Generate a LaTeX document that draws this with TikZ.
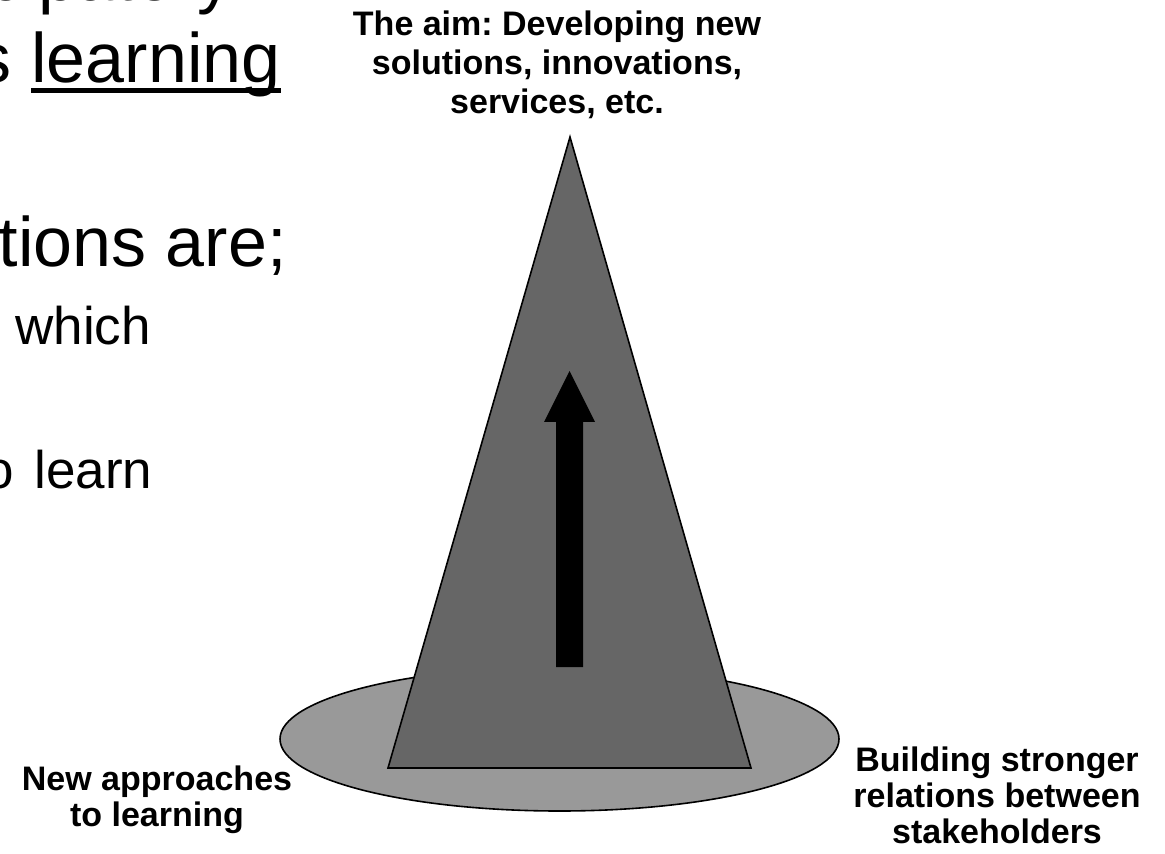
\documentclass[tikz,border=0pt]{standalone}
\usepackage{fontspec}
\setmainfont{Liberation Sans}
\frenchspacing
\usetikzlibrary{positioning}

\begin{document}
\begin{tikzpicture}[x=0.5pt,y=-0.5pt,
  bigtxt/.style={inner sep=0pt,font=\fontsize{35}{41}\selectfont},
  midtxt/.style={inner sep=0pt,font=\fontsize{26.5}{31}\selectfont},
  lbl/.style={inner sep=0pt,align=center,font=\bfseries\fontsize{17}{18}\selectfont},
  aimlbl/.style={lbl,font=\bfseries\fontsize{17}{19.5}\selectfont},
  cone/.style={draw=black,line width=0.8pt,fill=black!60,line join=miter},
  disc/.style={draw=black,line width=0.8pt,fill=black!40}]
\useasboundingbox (0,0) rectangle (1165,854);
\clip (0,0) rectangle (1165,854);
% slide text, cut off at the left edge
\node[bigtxt,anchor=base east] (line1) at (233,1) {Participatory};
\node[bigtxt,anchor=base west] (learnword) at (31,83) {learning};
\node[bigtxt,base left=9.7pt of learnword] (isword) {is};
\draw[line width=2.5pt] ([yshift=-4pt]learnword.base west) -- ([yshift=-4pt]learnword.base east);
\node[bigtxt,anchor=base east] (line3) at (287,267) {questions are;};
\node[midtxt,anchor=base west] (line4) at (15,345) {which};
\node[midtxt,anchor=base west] (learnverb) at (34,488) {learn};
\node[midtxt,base left=10pt of learnverb] (toword) {to};
% cone on the disc
\coordinate (apex) at (570,137);
\coordinate (baseL) at (388,768);
\coordinate (baseR) at (751,768);
\draw[disc] (559.5,739) ellipse [x radius=139.75pt, y radius=36pt];
\draw[cone] (baseL) -- (apex) -- (baseR) -- cycle;
\fill[black] (556,667) -- (556,422) -- (544,422) -- (569.5,371) -- (595,422) -- (583,422) -- (583,667) -- cycle;
% labels
\node[aimlbl,anchor=north] (aim) at (557,10) {The aim: Developing new\\solutions, innovations,\\services, etc.};
\node[lbl,anchor=north] (approach) at (157,765) {New approaches\\to learning};
\node[lbl,anchor=north] (relations) at (997,746) {Building stronger\\relations between\\stakeholders};
\end{tikzpicture}
\end{document}
